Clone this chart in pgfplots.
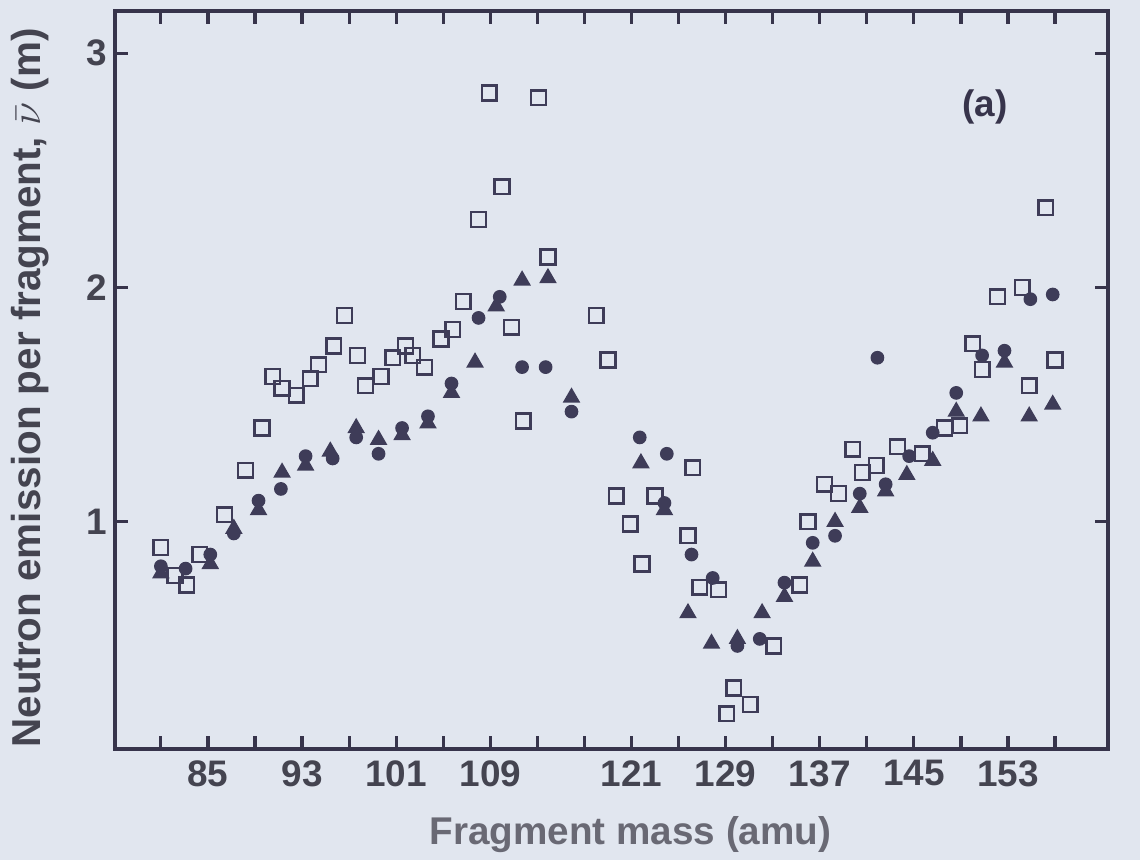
\documentclass[border=0pt]{standalone}
\usepackage{fontspec}
\setmainfont{Liberation Sans}
\usepackage{pgfplots}
\pgfplotsset{compat=1.18}
\definecolor{bgc}{RGB}{225,230,239}
\definecolor{mk}{RGB}{62,60,88}
\definecolor{axc}{RGB}{55,52,75}
\definecolor{tkc}{RGB}{68,68,80}
\definecolor{xlc}{RGB}{105,105,116}
\newcommand{\tfont}{\bfseries\fontsize{10.5}{12}\selectfont}
\newcommand{\lfont}{\bfseries\fontsize{11}{13}\selectfont}
\newcommand{\ylfont}{\bfseries\fontsize{11.5}{13}\selectfont}
\newcommand{\afont}{\bfseries\fontsize{10.5}{12}\selectfont}
\begin{document}
\begin{tikzpicture}
\fill[bgc] (-1.15cm,-1.11cm) rectangle (10.25cm,7.49cm);
\begin{axis}[
  scale only axis, width=9.93cm, height=7.38cm,
  xmin=77.1, xmax=161.5, ymin=0.03, ymax=3.18,
  axis line style={draw=axc, line width=0.9pt},
  tick style={draw=axc, line width=0.9pt},
  major tick length=1.3mm,
  xtick={81,85,...,157},
  xticklabels={{},85,{},93,{},101,{},109,{},{},121,{},129,{},137,{},145,{},153,{}},
  ytick={1,2,3},
  /pgf/number format/assume math mode=true,
  tick label style={font=\tfont, text=tkc},
  xticklabel style={yshift=0.1mm},
  yticklabel style={xshift=0.4mm},
  xlabel={Fragment mass (amu)},
  ylabel={Neutron emission per fragment, $\bar{\nu}$ (m)},
  xlabel style={font=\lfont, text=xlc, xshift=1.9mm, yshift=-0.6mm},
  ylabel style={font=\ylfont, text=tkc, xshift=-0.8mm, inner sep=0pt},
  ylabel shift=2.5mm,
]
\addplot[only marks, mark=square, mark size=2.1pt, mark options={draw=mk, line width=0.7pt}] coordinates {
(81.0,0.89) (82.2,0.77) (83.2,0.73) (84.3,0.86) (86.4,1.03) (88.2,1.22) (89.6,1.40)
(90.5,1.62) (91.3,1.57) (92.5,1.54) (93.7,1.61) (94.4,1.67) (95.7,1.75) (96.6,1.88)
(97.7,1.71) (98.4,1.58) (99.7,1.62) (100.7,1.70) (101.8,1.75) (102.4,1.71) (103.4,1.66)
(104.8,1.78) (105.8,1.82) (106.7,1.94) (108.0,2.29) (108.9,2.83) (110.0,2.43) (110.8,1.83)
(111.8,1.43) (113.1,2.81) (113.9,2.13) (118.0,1.88) (119.0,1.69) (119.7,1.11) (120.9,0.99)
(121.9,0.82) (123.0,1.11) (125.8,0.94) (126.2,1.23) (126.8,0.72) (128.4,0.71) (129.1,0.18)
(129.7,0.29) (131.1,0.22) (133.1,0.47) (135.3,0.73) (136.0,1.00) (137.4,1.16) (138.6,1.12)
(139.8,1.31) (140.6,1.21) (141.8,1.24) (143.6,1.32) (145.7,1.29) (147.6,1.40) (148.9,1.41)
(150.0,1.76) (150.8,1.65) (152.1,1.96) (154.2,2.00) (154.8,1.58) (156.2,2.34) (157.0,1.69)
};
\addplot[only marks, mark=*, mark size=1.75pt, mark options={draw=mk, fill=mk}] coordinates {
(81.0,0.81) (83.1,0.80) (85.2,0.86) (87.2,0.95) (89.3,1.09) (91.2,1.14) (93.3,1.28)
(95.6,1.27) (97.6,1.36) (99.5,1.29) (101.5,1.40) (103.7,1.45) (105.7,1.59) (108.0,1.87)
(109.8,1.96) (111.7,1.66) (113.7,1.66) (115.9,1.47) (121.7,1.36) (124.0,1.29) (123.8,1.08)
(126.1,0.86) (127.9,0.76) (130.0,0.47) (131.9,0.50) (134.0,0.74) (136.4,0.91) (138.3,0.94)
(140.4,1.12) (141.9,1.70) (142.6,1.16) (144.6,1.28) (146.6,1.38) (148.6,1.55) (150.8,1.71)
(152.7,1.73) (154.9,1.95) (156.8,1.97)
};
\addplot[only marks, mark=triangle*, mark size=2.5pt, mark options={draw=mk, fill=mk}] coordinates {
(81.0,0.78) (85.2,0.82) (87.2,0.97) (89.3,1.05) (91.3,1.21) (93.3,1.24) (95.4,1.30)
(97.6,1.40) (99.5,1.35) (101.5,1.37) (103.7,1.42) (105.7,1.55) (107.7,1.68) (109.5,1.92)
(111.7,2.03) (113.9,2.04) (115.9,1.53) (121.8,1.25) (123.8,1.05) (125.8,0.61) (127.8,0.48)
(130.0,0.50) (132.1,0.61) (134.0,0.68) (136.4,0.83) (138.3,1.00) (140.4,1.06) (142.6,1.13)
(144.4,1.20) (146.6,1.26) (148.6,1.47) (150.7,1.45) (152.7,1.68) (154.8,1.45) (156.8,1.50)
};
\end{axis}
\node[font=\afont, text=axc] at (8.70cm,6.42cm) {(a)};
\end{tikzpicture}
\end{document}
